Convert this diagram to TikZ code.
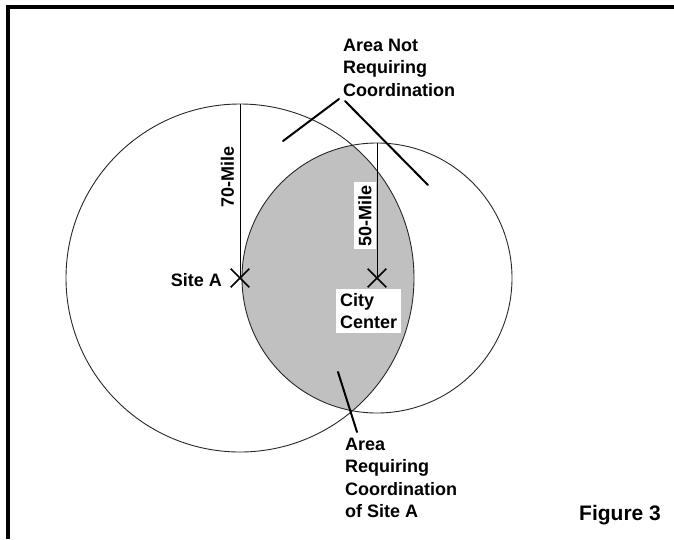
\documentclass[tikz,border=0pt]{standalone}
\usepackage{fontspec}
\setmainfont{Liberation Sans}
\usetikzlibrary{shapes.misc}
\definecolor{lensgray}{RGB}{192,192,192}
\definecolor{ringcol}{RGB}{40,40,40}
\tikzset{
  ring/.style={draw=ringcol, line width=0.9pt},
  radline/.style={draw=black, line width=1pt},
  leader/.style={draw=black, line width=2pt, line cap=round},
  xmark/.style={draw=black, cross out, minimum size=17pt, inner sep=0pt, line width=1.6pt},
  lbl/.style={font=\fontsize{18}{22.5}\selectfont\bfseries, inner sep=0pt},
  frame/.style={draw=black, line width=4pt, line join=miter}
}
\begin{document}
\begin{tikzpicture}[x=1pt,y=-1pt]
\useasboundingbox (0,0) rectangle (674,539);
\fill[white] (0,0) rectangle (674,539);
% frame (left and top)
\draw[frame] (8,539) -- (8,7) -- (674,7);
% centres
\coordinate (A) at (240,278);
\coordinate (B) at (377,278);
% lens
\begin{scope}
  \clip (A) circle[radius=174];
  \fill[lensgray] (B) circle[radius=135];
\end{scope}
\draw[ring] (A) circle[radius=174];
\draw[ring] (B) circle[radius=135];
% radii
\coordinate (Atop) at (240,104);
\coordinate (Btop) at (377,143);
\draw[radline] (A) -- (Atop);
\draw[radline] (B) -- (Btop);
% markers
\node[xmark] (xA) at (A) {};
\node[xmark] (xB) at (B) {};
% radius labels
\node[lbl, rotate=90] (r70) at (227.5,176.5) {70-Mile};
\node[lbl, rotate=90, fill=white, minimum width=67pt, minimum height=22pt] (r50) at (365,215.5) {50-Mile};
% site labels
\node[lbl, anchor=base east] (siteA) at (222,286) {Site A};
\node[lbl, fill=white, align=left, inner xsep=4pt, inner ysep=4.2pt, anchor=north west] (city) at (336,289) {City\\Center};
% top label
\node[lbl, anchor=base west] (t1) at (343,51) {Area Not};
\node[lbl, anchor=base west] (t2) at (343,73.5) {Requiring};
\node[lbl, anchor=base west] (t3) at (343,96) {Coordination};
\coordinate (l1s) at (339,99);
\coordinate (l1e) at (283,141);
\coordinate (l2s) at (345,101);
\coordinate (l2e) at (428,185);
\draw[leader] (l1s) -- (l1e);
\draw[leader] (l2s) -- (l2e);
% bottom label
\node[lbl, anchor=base west] (b1) at (345,450) {Area};
\node[lbl, anchor=base west] (b2) at (345,472.5) {Requiring};
\node[lbl, anchor=base west] (b3) at (345,495) {Coordination};
\node[lbl, anchor=base west] (b4) at (345,517.5) {of Site A};
\coordinate (l3s) at (357,432);
\coordinate (l3e) at (338,372);
\draw[leader] (l3s) -- (l3e);
% figure caption
\node[lbl, font=\fontsize{21}{25}\selectfont\bfseries, anchor=base west] (fig) at (579,520) {Figure 3};
\end{tikzpicture}
\end{document}
